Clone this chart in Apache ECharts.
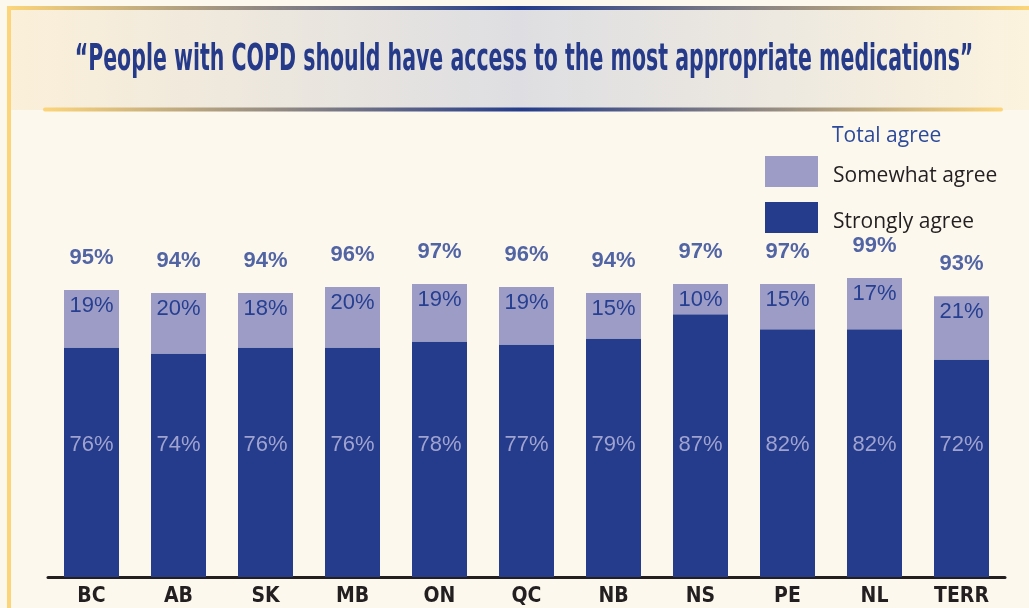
<!DOCTYPE html>
<html>
<head>
<meta charset="utf-8">
<script src="https://cdn.jsdelivr.net/npm/echarts@6/dist/echarts.min.js"></script>
<style>
  html, body { margin: 0; padding: 0; background: #fdf8ee; }
  #chart { width: 1029px; height: 608px; }
</style>
</head>
<body>
<div id="chart"></div>
<script>
// Provinces / territories
const provinces = ['BC', 'AB', 'SK', 'MB', 'ON', 'QC', 'NB', 'NS', 'PE', 'NL', 'TERR'];
// Share (%) answering "strongly agree"
const stronglyAgree = [76, 74, 76, 76, 78, 77, 79, 87, 82, 82, 72];
// Share (%) answering "somewhat agree"
const somewhatAgree = [19, 20, 18, 20, 19, 19, 15, 10, 15, 17, 21];
// Total agree (%) as reported
const totalAgree = [95, 94, 94, 96, 97, 96, 94, 97, 97, 99, 93];

const titleText = '\u201CPeople with COPD should have access to the most appropriate medications\u201D';

const NAVY = '#243c8b';
const LAVENDER = '#9c9cc7';
const GOLD = '#fcd57a';

const goldNavyGold = () => ({
  type: 'linear', x: 0, y: 0, x2: 1, y2: 0,
  colorStops: [
    { offset: 0, color: GOLD },
    { offset: 0.5, color: NAVY },
    { offset: 1, color: GOLD }
  ]
});

const chart = echarts.init(document.getElementById('chart'), null, { renderer: 'canvas' });

chart.setOption({
  backgroundColor: '#fdf8ee',
  animation: false,
  graphic: [
    // header band
    {
      type: 'rect', z: 0, silent: true,
      shape: { x: 7, y: 10, width: 1022, height: 100 },
      style: {
        fill: {
          type: 'linear', x: 0, y: 0, x2: 1, y2: 0,
          colorStops: [
            { offset: 0, color: '#fbf0d9' },
            { offset: 0.5, color: '#dedee2' },
            { offset: 1, color: '#fcf3de' }
          ]
        }
      }
    },
    // top rule
    {
      type: 'rect', z: 1, silent: true,
      shape: { x: 7, y: 6, width: 1022, height: 4 },
      style: { fill: goldNavyGold() }
    },
    // left border
    {
      type: 'rect', z: 1, silent: true,
      shape: { x: 7, y: 6, width: 4, height: 602 },
      style: { fill: GOLD }
    },
    // rule under the heading
    {
      type: 'rect', z: 1, silent: true,
      shape: { x: 43, y: 107.5, width: 960, height: 4, r: 2 },
      style: { fill: goldNavyGold() }
    },
    // heading (condensed by horizontal scaling)
    {
      type: 'text', z: 3, silent: true,
      x: 524, y: 60,
      scaleX: 0.6, scaleY: 1,
      style: {
        text: titleText,
        fill: '#263a8a',
        font: 'bold 38px "DejaVu Sans Condensed", "DejaVu Sans", sans-serif',
        align: 'center',
        verticalAlign: 'middle'
      }
    },
    // legend heading
    {
      type: 'text', z: 3, silent: true,
      x: 832, y: 136,
      style: {
        text: 'Total agree',
        fill: '#2b4a9b',
        font: '21px "Open Sans", "Noto Sans", sans-serif',
        verticalAlign: 'middle'
      }
    }
  ],
  legend: {
    data: ['Somewhat agree', 'Strongly agree'],
    orient: 'vertical',
    left: 765,
    top: 156,
    padding: 0,
    itemWidth: 53,
    itemHeight: 31,
    itemGap: 15,
    icon: 'rect',
    selectedMode: false,
    formatter: '{t|{name}}',
    textStyle: {
      fontFamily: '"Open Sans", "Noto Sans", sans-serif',
      fontSize: 21,
      color: '#231f20',
      rich: {
        t: {
          fontFamily: '"Open Sans", "Noto Sans", sans-serif',
          fontSize: 21,
          color: '#231f20',
          padding: [10, 0, 0, 10]
        }
      }
    }
  },
  grid: { left: 48, right: 24, top: 275, bottom: 31, containLabel: false },
  xAxis: {
    type: 'category',
    data: provinces,
    axisLine: { show: true, lineStyle: { color: '#231f20', width: 3 } },
    axisTick: { show: false },
    axisLabel: {
      color: '#231f20',
      fontSize: 21,
      fontWeight: 'bold',
      fontFamily: '"DejaVu Sans Condensed", sans-serif',
      margin: 9
    }
  },
  yAxis: {
    type: 'value', min: 0, max: 100, show: false,
    splitLine: { show: false }
  },
  series: [
    {
      name: 'Strongly agree',
      type: 'bar',
      stack: 'agree',
      barWidth: 55,
      data: stronglyAgree,
      itemStyle: { color: NAVY },
      label: {
        show: true,
        position: 'insideBottom',
        distance: 121,
        formatter: '{c}%',
        color: '#a0a3d0',
        fontSize: 22,
        fontFamily: '"Liberation Sans", Arial, sans-serif'
      }
    },
    {
      name: 'Somewhat agree',
      type: 'bar',
      stack: 'agree',
      barWidth: 55,
      data: somewhatAgree,
      itemStyle: { color: LAVENDER },
      label: {
        show: true,
        position: 'insideTop',
        distance: 5,
        formatter: '{c}%',
        color: '#263f90',
        fontSize: 22,
        fontFamily: '"Liberation Sans", Arial, sans-serif'
      }
    },
    {
      name: 'Total agree',
      type: 'scatter',
      data: totalAgree,
      symbolSize: 1,
      silent: true,
      itemStyle: { color: 'rgba(0,0,0,0)' },
      label: {
        show: true,
        position: 'top',
        distance: 21,
        formatter: '{c}%',
        color: '#263f90',
        fontSize: 22,
        fontWeight: 'bold',
        fontFamily: '"Liberation Sans", Arial, sans-serif'
      },
      z: 5
    }
  ]
});
</script>
</body>
</html>
